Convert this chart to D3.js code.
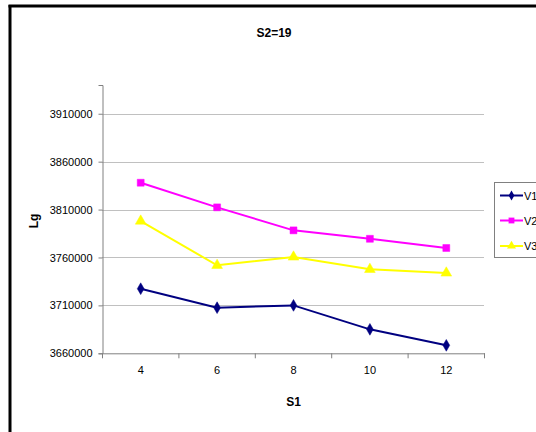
<!DOCTYPE html>
<html>
<head>
<meta charset="utf-8">
<script src="https://cdn.jsdelivr.net/npm/d3@7"></script>
<style>
  html, body { margin: 0; padding: 0; background: #fff; }
  svg { display: block; font-family: "Liberation Sans", Arial, sans-serif; }
</style>
</head>
<body>
<svg id="chart" width="536" height="432"></svg>
<script>
const categories = ["4", "6", "8", "10", "12"];
const seriesNames = ["V1", "V2", "V3"];
const v1 = [3727400, 3707600, 3710000, 3685000, 3668300];
const v2 = [3838000, 3812300, 3788300, 3779500, 3769900];
const v3 = [3798000, 3751800, 3760500, 3747600, 3743800];
const yTicks = [3660000, 3710000, 3760000, 3810000, 3860000, 3910000];
const yDomain = [3660000, 3940000];
const title = "S2=19";
const xTitle = "S1";
const yTitle = "Lg";

const colors = ["#000080", "#FF00FF", "#FFFF00"];
const shapes = [d3.symbolDiamond, d3.symbolSquare, d3.symbolTriangle];
const sizes = [40, 48, 50];
const seriesData = [v1, v2, v3];

const svg = d3.select("#chart");

// outer frame (left & top visible)
svg.append("line").attr("x1", 10).attr("x2", 10).attr("y1", 5).attr("y2", 432)
  .attr("stroke", "#000").attr("stroke-width", 3);
svg.append("line").attr("x1", 8.5).attr("x2", 536).attr("y1", 6).attr("y2", 6)
  .attr("stroke", "#000").attr("stroke-width", 3);

const plot = { left: 102.5, right: 484.5, top: 85, bottom: 353.3 };

const x = d3.scaleBand().domain(categories).range([plot.left, plot.right]).padding(0);
const y = d3.scaleLinear().domain(yDomain).range([plot.bottom, plot.top]);

// gridlines
svg.append("g").selectAll("line").data(yTicks.slice(1)).join("line")
  .attr("x1", plot.left).attr("x2", plot.right)
  .attr("y1", d => Math.round(y(d)) + 0.5).attr("y2", d => Math.round(y(d)) + 0.5)
  .attr("stroke", "#808080").attr("stroke-width", 1).attr("stroke-dasharray", "1,1");

// y axis
const yAxis = svg.append("g").attr("transform", `translate(${plot.left},0)`)
  .call(d3.axisLeft(y).tickValues(yTicks).tickFormat(d3.format("d")).tickSize(4).tickPadding(6));
yAxis.select(".domain").attr("stroke", "#808080");
yAxis.selectAll(".tick line").attr("stroke", "#808080");
yAxis.selectAll("text").attr("font-size", 11).attr("fill", "#000")
  .attr("font-family", "'Liberation Sans', Arial, sans-serif");

// x axis
const xAxis = svg.append("g").attr("transform", `translate(0,${plot.bottom})`)
  .call(d3.axisBottom(x).tickSize(0).tickPadding(13));
xAxis.select(".domain").attr("stroke", "#808080");
xAxis.selectAll("text").attr("font-size", 11).attr("fill", "#000")
  .attr("font-family", "'Liberation Sans', Arial, sans-serif");
// category boundary ticks
const bounds = categories.map(c => x(c)).concat([x(categories[categories.length - 1]) + x.bandwidth()]);
xAxis.append("g").selectAll("line").data(bounds).join("line")
  .attr("x1", d => d).attr("x2", d => d).attr("y1", 0).attr("y2", 5)
  .attr("stroke", "#808080");

// series
const line = d3.line().x((d, i) => x(categories[i]) + x.bandwidth() / 2).y(d => y(d));
seriesData.forEach((vals, si) => {
  svg.append("path").datum(vals).attr("d", line)
    .attr("fill", "none").attr("stroke", colors[si]).attr("stroke-width", 2);
  svg.append("g").selectAll("path").data(vals).join("path")
    .attr("transform", (d, i) => `translate(${x(categories[i]) + x.bandwidth() / 2},${y(d)})`)
    .attr("d", d3.symbol().type(shapes[si]).size(sizes[si]))
    .attr("fill", colors[si]).attr("stroke", colors[si]).attr("stroke-width", 0.5);
});

// titles
svg.append("text").attr("x", 274).attr("y", 37).attr("text-anchor", "middle")
  .attr("font-size", 12).attr("font-weight", "bold").text(title);
svg.append("text").attr("x", 293.5).attr("y", 406).attr("text-anchor", "middle")
  .attr("font-size", 12).attr("font-weight", "bold").text(xTitle);
svg.append("text").attr("transform", "translate(38,221) rotate(-90)").attr("text-anchor", "middle")
  .attr("font-size", 12).attr("font-weight", "bold").text(yTitle);

// legend
const lg = svg.append("g");
lg.append("rect").attr("x", 494.5).attr("y", 182.5).attr("width", 60).attr("height", 75)
  .attr("fill", "#fff").attr("stroke", "#808080").attr("stroke-width", 1);
const legendY = [195.5, 220.5, 246];
seriesNames.forEach((name, si) => {
  lg.append("line").attr("x1", 500).attr("x2", 523).attr("y1", legendY[si]).attr("y2", legendY[si])
    .attr("stroke", colors[si]).attr("stroke-width", 2);
  lg.append("path").attr("transform", `translate(511.5,${legendY[si]})`)
    .attr("d", d3.symbol().type(shapes[si]).size(sizes[si] * 0.7)).attr("fill", colors[si]);
  lg.append("text").attr("x", 524).attr("y", legendY[si] + 4).attr("font-size", 11)
    .attr("fill", "#000").text(name);
});
</script>
</body>
</html>
